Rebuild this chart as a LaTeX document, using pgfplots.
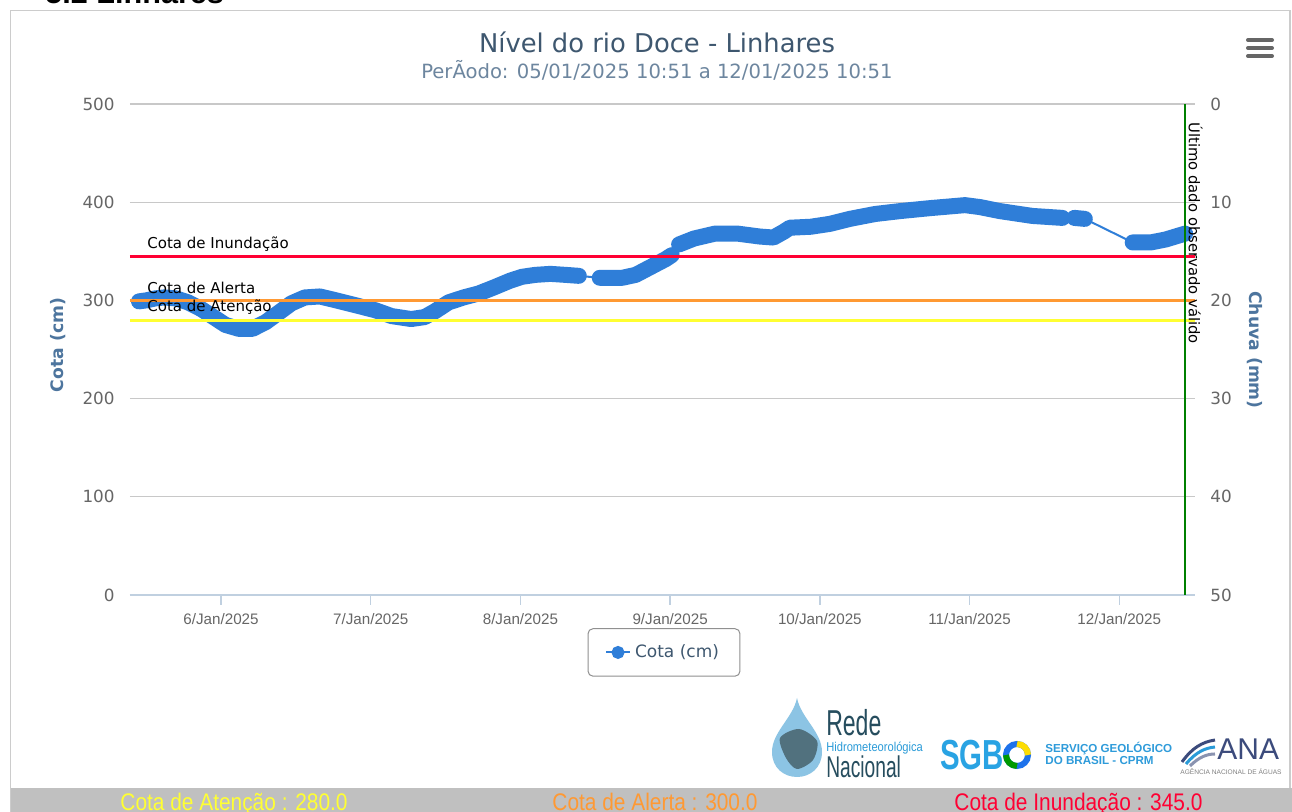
\documentclass[border=0pt]{standalone}
\usepackage{pgfplots}
\pgfplotsset{compat=1.18}
\usepackage{pgfplotstable}
\usepackage{fontspec}
\setmainfont{DejaVu Sans}
\newfontfamily\arialf{Liberation Sans}
\definecolor{hcblue}{HTML}{2F7ED8}
\definecolor{titlec}{HTML}{3E576F}
\definecolor{subc}{HTML}{6D869F}
\definecolor{axtitle}{HTML}{4D759E}
\definecolor{tickc}{HTML}{666666}
\definecolor{axline}{HTML}{C0D0E0}
\definecolor{gridc}{HTML}{C8C8C8}
\definecolor{cred}{HTML}{FF0033}
\definecolor{corange}{HTML}{FF9933}
\definecolor{cyellow}{HTML}{FFFF33}
\definecolor{cgreen}{HTML}{008000}
\definecolor{framec}{HTML}{CCCCCC}
\definecolor{barc}{HTML}{C0C0C0}
\definecolor{legendc}{HTML}{909090}
\definecolor{redec}{HTML}{264D5E}
\definecolor{hidroc}{HTML}{2A9BD8}
\definecolor{sgbc}{HTML}{29A3E3}
\definecolor{sgbtext}{HTML}{2E9BDA}
\definecolor{anac}{HTML}{3C4B7C}
\definecolor{dropc}{HTML}{8CC4E4}

\pgfplotstableread{
day cota
5.452 299
5.50 300
5.56 302
5.62 303
5.70 302
5.78 298
5.87 291
5.96 282
6.03 275
6.12 271
6.21 271
6.30 278
6.39 288
6.47 297
6.56 303
6.66 304
6.77 300
6.90 295
7.03 290
7.14 284
7.27 281
7.36 283
7.43 289
7.52 298
7.62 303
7.72 307
7.82 313
7.93 320
8.01 324
8.10 326
8.20 327
8.30 326
8.39 325
nan nan
8.53 323
8.62 323
8.68 323
8.77 326
8.87 334
8.97 342
9.01 346
nan nan
9.06 357
9.16 363
9.30 368
9.45 368
9.60 365
9.69 364
9.76 370
9.80 374
9.94 375
10.07 378
10.20 383
10.37 388
10.54 391
10.74 394
10.97 397
11.07 395
11.20 391
11.42 386
11.62 384
nan nan
11.70 384
11.77 383
nan nan
12.09 359
12.21 359
12.31 362
12.44 368
}\cota

\begin{document}
\begin{tikzpicture}
\useasboundingbox (0,0) rectangle (646pt,406pt);
\clip (0,0) rectangle (646pt,406pt);
\fill[white] (0,0) rectangle (646pt,406pt);
\begin{scope}[x=0.5pt,y=-0.5pt,yshift=406pt]
  % cropped heading
  \node[font=\arialf\bfseries\fontsize{15.3}{18}\selectfont, anchor=base west, inner sep=0pt] at (45,4) {5.2 Linhares};
  % frame
  \draw[framec, line width=0.75pt] (10.5,10.5) rectangle (1290,840);
  % bottom bar
  \fill[barc] (11,788) rectangle (1292,812);
  \node[font=\arialf\fontsize{12}{14}\selectfont, text=cyellow, xscale=0.87, anchor=base, inner sep=0pt] at (234,810.5) {Cota de Atenção : 280.0};
  \node[font=\arialf\fontsize{12}{14}\selectfont, text=corange, xscale=0.87, anchor=base, inner sep=0pt] at (655,810.5) {Cota de Alerta : 300.0};
  \node[font=\arialf\fontsize{12}{14}\selectfont, text=cred, xscale=0.87, anchor=base, inner sep=0pt] at (1078.5,810.5) {Cota de Inundação : 345.0};
  % title
  \node[font=\fontsize{12.9}{15}\selectfont, text=titlec, anchor=base, inner sep=0pt] at (657,53) {Nível do rio Doce - Linhares};
  \node[font=\fontsize{9.8}{12}\selectfont, text=subc, anchor=base, inner sep=0pt] at (657,79) {PerÃodo: 05/01/2025 10:51 a 12/01/2025 10:51};
  % axis titles
  \node[rotate=90, font=\bfseries\fontsize{8.6}{10}\selectfont, text=axtitle, inner sep=0pt] at (58,345) {Cota (cm)};
  \node[rotate=-90, font=\bfseries\fontsize{8.6}{10}\selectfont, text=axtitle, inner sep=0pt] at (1255,350) {Chuva (mm)};
  % menu icon
  \draw[tickc, line width=2pt, line cap=round] (1248,40) -- (1272,40) (1248,48) -- (1272,48) (1248,56) -- (1272,56);
  % logo: Rede Hidrometeorologica Nacional
  \fill[dropc] (797,698) .. controls (793,718) and (772,732) .. (772,752) .. controls (772,768) and (784,777) .. (797,777) .. controls (810,777) and (822,768) .. (822,752) .. controls (822,732) and (801,718) .. cycle;
  \fill[redec!80] plot[smooth cycle] coordinates {(780,738) (799,729) (817,741) (813,760) (797,769) (786,758)};
  \node[anchor=base west, inner sep=0pt, font=\arialf\fontsize{18}{20}\selectfont, text=redec, xscale=0.64] at (826,735.5) {Rede};
  \node[anchor=base west, inner sep=0pt, font=\arialf\fontsize{6.4}{8}\selectfont, text=hidroc, xscale=0.87] at (826,751.5) {Hidrometeorológica};
  \node[anchor=base west, inner sep=0pt, font=\arialf\fontsize{15}{16}\selectfont, text=redec, xscale=0.64] at (826,778) {Nacional};
  % logo: SGB
  \node[anchor=base west, inner sep=0pt, font=\arialf\bfseries\fontsize{21}{22}\selectfont, text=sgbc, xscale=0.7] at (940,770) {SGB};
  \draw[sgbc!70!blue, line width=3pt] (1017,755) circle (11);
  \draw[yellow!80!orange, line width=3pt] (1028,755) arc (0:-90:11);
  \draw[green!60!black, line width=3pt] (1006,755) arc (180:90:11);
  \node[anchor=base west, inner sep=0pt, font=\arialf\bfseries\fontsize{5.8}{7}\selectfont, text=sgbtext] at (1045,753) {SERVIÇO GEOLÓGICO};
  \node[anchor=base west, inner sep=0pt, font=\arialf\bfseries\fontsize{5.8}{7}\selectfont, text=sgbtext] at (1045,765) {DO BRASIL - CPRM};
  % logo: ANA
  \draw[anac, line width=1.5pt] (1182,762) .. controls (1192,748) and (1202,742) .. (1215,740);
  \draw[hidroc, line width=1.5pt] (1186,764) .. controls (1196,752) and (1205,748) .. (1215,747);
  \draw[anac!60, line width=1.5pt] (1190,766) .. controls (1199,757) and (1207,754) .. (1215,754);
  \node[anchor=base west, inner sep=0pt, font=\arialf\fontsize{15}{16}\selectfont, text=anac] at (1217,760) {ANA};
  \node[anchor=base west, inner sep=0pt, font=\arialf\fontsize{3.3}{4}\selectfont, text=gray] at (1180,775) {AGÊNCIA NACIONAL DE ÁGUAS};
\end{scope}

\begin{axis}[
  at={(65pt,108.5pt)}, anchor=south west,
  width=532.5pt, height=245.5pt, scale only axis,
  xmin=5.392, xmax=12.506, ymin=0, ymax=500,
  axis x line*=bottom, axis y line*=left,
  x axis line style={draw=axline, line width=0.75pt},
  y axis line style={draw=none},
  xtick={6,7,8,9,10,11,12},
  xticklabels={6/Jan/2025,7/Jan/2025,8/Jan/2025,9/Jan/2025,10/Jan/2025,11/Jan/2025,12/Jan/2025},
  xtick style={draw=axline, line width=0.75pt, yshift=-5pt},
  major tick length=5pt,
  ytick={0,100,200,300,400,500},
  ytick style={draw=none},
  ymajorgrids, major grid style={draw=gridc, line width=0.6pt},
  xticklabel style={font=\arialf\fontsize{7.6}{9}\selectfont, text=tickc, anchor=north, inner sep=0pt, yshift=-9pt},
  yticklabel style={font=\fontsize{8.4}{10}\selectfont, text=tickc, anchor=east, inner sep=0pt, xshift=-7.5pt},
  /pgf/number format/assume math mode=true,
  clip=false,
  legend style={at={(0.5014,-0.117)}, anchor=center, draw=legendc, rounded corners=2.5pt, line width=0.5pt, inner xsep=8.5pt, inner ysep=5.9pt, font=\fontsize{8.5}{10}\selectfont, text=titlec},
  legend image code/.code={\draw[hcblue, line width=1pt, sharp corners] (0pt,0pt) -- (12pt,0pt); \fill[hcblue] (6pt,0pt) circle (2.75pt);},
]
\addplot[hcblue, line width=8pt, line cap=round, line join=round, unbounded coords=jump, forget plot] table[x=day, y=cota] {\cota};
\addplot[hcblue, line width=1pt, unbounded coords=discard] table[x=day, y=cota] {\cota};
\addlegendentry{Cota (cm)}
\addplot[cred, line width=1.5pt, forget plot] coordinates {(5.392,345) (12.506,345)};
\addplot[corange, line width=1.5pt, forget plot] coordinates {(5.392,300) (12.506,300)};
\addplot[cyellow, line width=1.5pt, forget plot] coordinates {(5.392,280) (12.506,280)};
\addplot[cgreen, line width=1.35pt, forget plot] coordinates {(12.44,0) (12.44,500)};
\node[anchor=base west, inner sep=0pt, font=\fontsize{7.5}{9}\selectfont] at (axis cs:5.392,345) [xshift=8.5pt, yshift=4pt] {Cota de Inundação};
\node[anchor=base west, inner sep=0pt, font=\fontsize{7.5}{9}\selectfont] at (axis cs:5.392,300) [xshift=8.5pt, yshift=3.2pt] {Cota de Alerta};
\node[anchor=base west, inner sep=0pt, font=\fontsize{7.5}{9}\selectfont] at (axis cs:5.392,280) [xshift=8.5pt, yshift=4.5pt] {Cota de Atenção};
\node[xshift=5.25pt, yshift=-9pt, rotate=-90, anchor=west, inner sep=0pt, font=\fontsize{7.4}{9}\selectfont] at (axis cs:12.44,500) {Último dado observado válido};
\end{axis}

\begin{axis}[
  at={(65pt,108.5pt)}, anchor=south west,
  width=532.5pt, height=245.5pt, scale only axis,
  xmin=5.392, xmax=12.506, ymin=0, ymax=50, y dir=reverse,
  axis x line=none, axis y line*=right, xtick=\empty,
  y axis line style={draw=none},
  ytick={0,10,20,30,40,50}, ytick style={draw=none},
  yticklabel style={font=\fontsize{8.4}{10}\selectfont, text=tickc, anchor=west, inner sep=0pt, xshift=7.5pt},
  /pgf/number format/assume math mode=true,
]
\end{axis}
\end{tikzpicture}
\end{document}
